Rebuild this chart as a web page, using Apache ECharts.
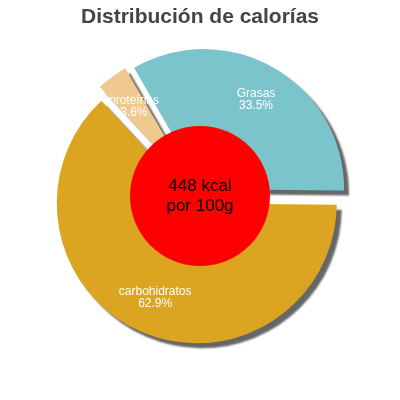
<!DOCTYPE html>
<html><head><meta charset="utf-8">
<script src="https://cdn.jsdelivr.net/npm/echarts@6/dist/echarts.min.js"></script>
<style>html,body{margin:0;padding:0;background:#fff}#c{width:400px;height:400px}</style>
</head><body><div id="c"></div>
<script>
const categories = ['Grasas', 'carbohidratos', 'proteínas'];
const values = [33.5, 62.9, 3.6];
const colors = ['#7bc4cc', '#dba522', '#f0c98f'];
const centerText = ['448 kcal', 'por 100g'];

const chart = echarts.init(document.getElementById('c'));
chart.setOption({
  animation: false,
  title: {text: 'Distribución de calorías', left: 'center', top: 2,
    textStyle: {fontFamily: 'Liberation Sans', fontWeight: 'bold', fontSize: 21, color: '#444'}},
  series: [{
    type: 'pie', center: [200, 196], radius: [60, 140], startAngle: 120, clockwise: true, z: 2,
    selectedMode: 'multiple', selectedOffset: 8,
    itemStyle: {shadowColor: 'rgba(0,0,0,0.6)', shadowOffsetX: 5, shadowOffsetY: 5, shadowBlur: 2},
    label: {position: 'inside', color: '#fff', fontSize: 12, fontFamily: 'Liberation Sans', align: 'left',
      lineHeight: 12, formatter: p => p.name + '\n' + p.value.toFixed(1) + '%'},
    data: categories.map((c, i) => ({name: c, value: values[i], selected: true, itemStyle: {color: colors[i]}}))
  }, {
    type: 'pie', center: [200, 196], radius: [0, 70], silent: true, z: 5,
    label: {position: 'center', color: '#000', fontSize: 17, fontFamily: 'Liberation Sans', lineHeight: 20,
      formatter: () => centerText.join('\n')},
    data: [{name: 'kcal', value: 448, itemStyle: {color: '#ff0000'}}]
  }]
});
</script></body></html>
